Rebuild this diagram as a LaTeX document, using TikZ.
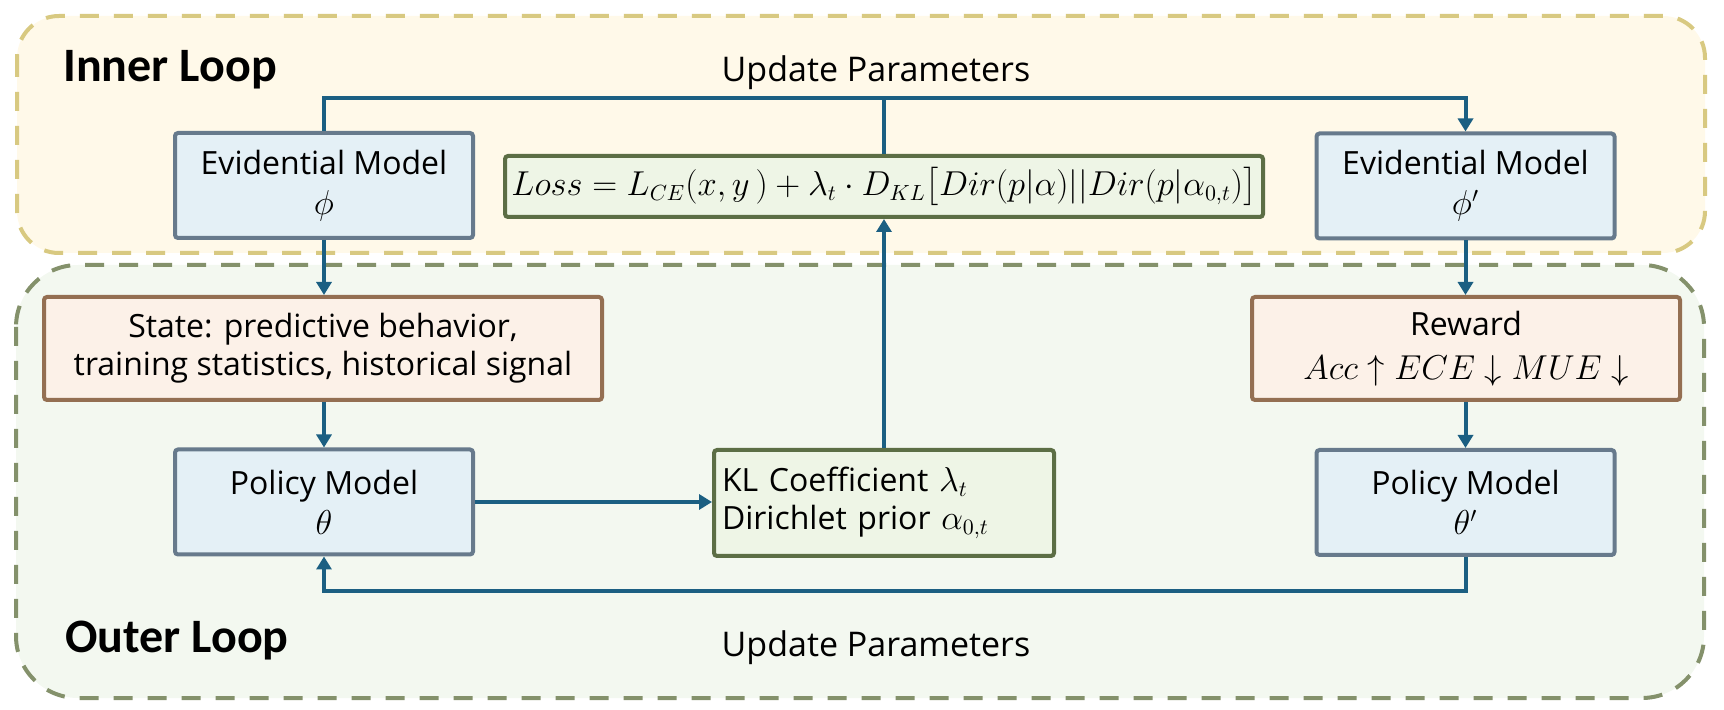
\documentclass[tikz,border=0pt]{standalone}
\usepackage{amsmath,amssymb}
\usepackage{fontspec}
\setmainfont{Open Sans}
\newfontfamily\loopfont{Carlito}
\usetikzlibrary{arrows.meta}

\definecolor{innerfill}{HTML}{FFF9E9}
\definecolor{innerline}{HTML}{D8C981}
\definecolor{outerfill}{HTML}{F3F8F0}
\definecolor{outerline}{HTML}{84916B}
\definecolor{modelfill}{HTML}{E4F0F6}
\definecolor{modelline}{HTML}{677A8C}
\definecolor{lossfill}{HTML}{EEF5E6}
\definecolor{lossline}{HTML}{5C6E45}
\definecolor{statefill}{HTML}{FCF1E8}
\definecolor{stateline}{HTML}{946F52}
\definecolor{flowcol}{HTML}{1B5F82}

\tikzset{
	loopbox/.style={line width=2pt, dash pattern=on 9.5pt off 7.5pt},
	box/.style={line width=2pt, rounded corners=1.5pt, inner sep=0pt, align=center, font=\fontsize{16}{19}\selectfont},
	modelbox/.style={box, draw=modelline, fill=modelfill, minimum width=149pt, minimum height=52.5pt},
	lossbox/.style={box, draw=lossline, fill=lossfill},
	statebox/.style={box, draw=stateline, fill=statefill, minimum height=51.5pt},
	flow/.style={draw=flowcol, line width=2pt, -{Triangle[length=6.5pt,width=7.5pt]}},
	link/.style={draw=flowcol, line width=2pt},
	looptitle/.style={anchor=base west, inner sep=0pt, font=\loopfont\bfseries\fontsize{24}{28}\selectfont},
	updtext/.style={anchor=base, inner sep=0pt, font=\fontsize{17}{20}\selectfont}
}

\begin{document}
\begin{tikzpicture}[x=0.5pt, y=-0.5pt]
	\useasboundingbox (0,0) rectangle (1724,710);
	\draw[loopbox, draw=innerline, fill=innerfill, rounded corners=21pt] (17,16) rectangle (1705,253);
	\draw[loopbox, draw=outerline, fill=outerfill, rounded corners=31pt] (16,265) rectangle (1704,698);
	
	\node[looptitle] (innertitle) at (63,82) {Inner Loop};
	\node[looptitle] (outertitle) at (65,653) {Outer Loop};
	\node[updtext] (updtop) at (876,82) {Update Parameters};
	\node[updtext] (updbot) at (876,656) {Update Parameters};
	
	\node[modelbox] (evid) at (324,185.5) {Evidential Model\\[1pt]$\phi$};
	\node[modelbox] (evidnew) at (1465.5,186) {Evidential Model\\[1pt]$\phi'$};
	\node[lossbox, minimum width=379pt, minimum height=30.5pt] (loss) at (884,186.5)
		{$Loss=L_{CE}(x,y\,)+\lambda_t\cdot D_{KL}\big[Dir(p|\alpha)||Dir(p|\alpha_{0,t})\big]$};
	
	\node[statebox, minimum width=279pt] (state) at (323,348.5) {State: predictive behavior,\\training statistics, historical signal};
	\node[statebox, minimum width=214pt] (reward) at (1466,348.5) {Reward\\[3pt]$Acc\uparrow ECE\downarrow MUE\downarrow$};
	
	\node[modelbox] (policy) at (324,502) {Policy Model\\[1pt]$\theta$};
	\node[lossbox, minimum width=170pt, minimum height=53pt, align=left, text width=162pt] (kl) at (884,503)
		{KL Coefficient $\lambda_t$\\Dirichlet prior $\alpha_{0,t}$};
	\node[modelbox] (policynew) at (1465.5,502.5) {Policy Model\\[1pt]$\theta'$};
	
	\coordinate (topbus) at (884,98);
	\coordinate (botbus) at (884,591);
	
	\draw[flow] (evid.north) |- (topbus) -| (evidnew.north);
	\draw[link] (loss.north) -- (topbus);
	\draw[flow] (evid.south) -- (state.north -| evid.south);
	\draw[flow] (evidnew.south) -- (reward.north -| evidnew.south);
	\draw[flow] (state.south -| policy.north) -- (policy.north);
	\draw[flow] (reward.south -| policynew.north) -- (policynew.north);
	\draw[flow] (policy.east) -- (policy.east -| kl.west);
	\draw[flow] (kl.north) -- (loss.south);
	\draw[flow] (policynew.south) |- (botbus) -| (policy.south);
	
\end{tikzpicture}
\end{document}
